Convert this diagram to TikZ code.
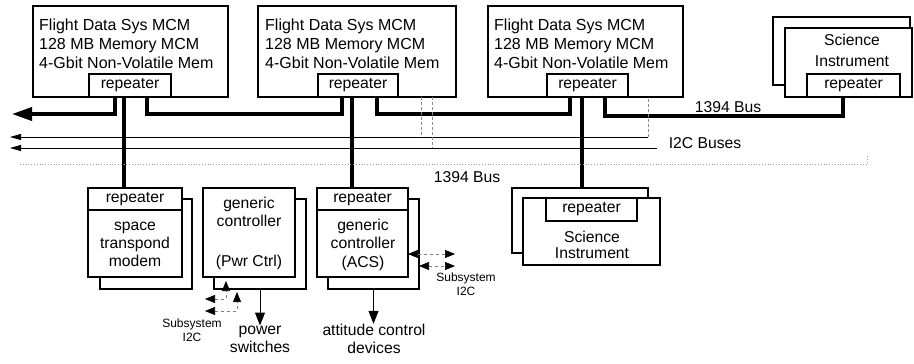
\documentclass[tikz,border=0pt]{standalone}
\usepackage{fontspec}
\setmainfont{Liberation Sans}
\usetikzlibrary{arrows.meta,calc}
\begin{document}
\begin{tikzpicture}[x=1pt,y=-1pt,
  box/.style={draw, line width=1.1pt, fill=white, inner sep=0pt, outer sep=0pt},
  lbl/.style={font=\fontsize{15.7}{18.5}\selectfont, align=center, inner sep=0pt},
  fdst/.style={font=\fontsize{16}{19}\selectfont, align=left, anchor=west, inner sep=0pt},
  lsm/.style={font=\fontsize{12}{14}\selectfont, align=center, inner sep=0pt},
  bus/.style={line width=3.6pt},
  i2c/.style={line width=0.9pt},
  faint/.style={line width=0.6pt, black!45, dash pattern=on 3pt off 2pt},
  tiparr/.style={-{Triangle[length=13pt,width=10pt]}, line width=1pt},
  subarr/.style={{Triangle[length=10pt,width=8pt,black]}-{Triangle[length=10pt,width=8pt,black]}, line width=0.6pt, black!50, dash pattern=on 3pt off 3pt},
]
\useasboundingbox[fill=white] (0,0) rectangle (914,364);

% ---------- top row: flight data boxes ----------
\node[box, minimum width=195, minimum height=91] (fds1) at (130.5,51.5) {};
\node[box, minimum width=198, minimum height=91] (fds2) at (357,51.5) {};
\node[box, minimum width=195, minimum height=91] (fds3) at (585.5,51.5) {};
\node[fdst] (ft1) at (39,43.5) {Flight Data Sys MCM\\128 MB Memory MCM\\4-Gbit Non-Volatile Mem};
\node[fdst] (ft2) at (265,43.5) {Flight Data Sys MCM\\128 MB Memory MCM\\4-Gbit Non-Volatile Mem};
\node[fdst] (ft3) at (494,43.5) {Flight Data Sys MCM\\128 MB Memory MCM\\4-Gbit Non-Volatile Mem};
\node[box, minimum width=82, minimum height=23] (rep1) at (130,85.5) {};
\node[box, minimum width=80, minimum height=23] (rep2) at (358,85.5) {};
\node[box, minimum width=81, minimum height=23] (rep3) at (587.5,85.5) {};
\node[lbl] (rt1) at (rep1) {repeater};
\node[lbl] (rt2) at (rep2) {repeater};
\node[lbl] (rt3) at (rep3) {repeater};

% ---------- top right science instrument ----------
\node[box, minimum width=137, minimum height=68] (sciAb) at (841.5,51) {};
\node[box, minimum width=127, minimum height=69] (sciAf) at (848.5,62.5) {};
\node[lbl, font=\fontsize{15.7}{21.5}\selectfont] (sciAt) at (852,50.5) {Science\\Instrument};
\node[box, minimum width=93, minimum height=23] (rep4) at (853.5,85.5) {};
\node[lbl] (rt4) at (rep4) {repeater};

% ---------- lower boxes ----------
% space transponder modem
\node[box, minimum width=92, minimum height=90] (stxb) at (146,244) {};
\node[box, minimum width=94, minimum height=89] (stxf) at (135,232.5) {};
\node[box, minimum width=94, minimum height=22] (repS) at (135,199) {};
\node[lbl] (rtS) at (repS) {repeater};
\node[lbl, font=\fontsize{15.7}{18}\selectfont] (stxt) at (135,244) {space\\transpond\\modem};
% generic controller (Pwr Ctrl)
\node[box, minimum width=92, minimum height=90] (pwrb) at (260,244) {};
\node[box, minimum width=92, minimum height=89] (pwrf) at (249,232.5) {};
\node[lbl, font=\fontsize{15.7}{18}\selectfont] (pwrt) at (249,212) {generic\\controller};
\node[lbl] (pwrt2) at (249,262) {(Pwr Ctrl)};
% generic controller (ACS)
\node[box, minimum width=91, minimum height=90] (acsb) at (373.5,244) {};
\node[box, minimum width=91, minimum height=89] (acsf) at (362.5,232.5) {};
\node[box, minimum width=91, minimum height=22] (repA) at (362.5,199) {};
\node[lbl] (rtA) at (repA) {repeater};
\node[lbl, font=\fontsize{15.7}{18.5}\selectfont] (acst) at (363,244.5) {generic\\controller\\(ACS)};
% lower science instrument
\node[box, minimum width=136, minimum height=65] (sciBb) at (580,220.5) {};
\node[box, minimum width=137, minimum height=67] (sciBf) at (591.5,231.5) {};
\node[box, minimum width=91, minimum height=23] (repB) at (591.5,209.5) {};
\node[lbl] (rtB) at (repB) {repeater};
\node[lbl, font=\fontsize{15.7}{16.7}\selectfont] (sciBt) at (592,245) {Science\\Instrument};

% ---------- 1394 bus (thick) ----------
\coordinate (busL) at (12,114);
\draw[bus, -{Triangle[length=20pt,width=13pt]}] ($(rep1.south)+(-15,0)$) |- (busL);
\draw[bus] ($(rep1.south)+(17,0)$) -- ++(0,17) -| ($(rep2.south)+(-16,0)$);
\draw[bus] ($(rep2.south)+(19,0)$) -- ++(0,17) -| ($(rep3.south)+(-17.5,0)$);
\draw[bus] ($(rep3.south)+(17.5,0)$) -- ++(0,19) -| ($(rep4.south)+(-10.5,0)$);
\coordinate (d1) at ($(rep1.south)+(-6,0)$);
\coordinate (d2) at ($(rep2.south)+(-6,0)$);
\coordinate (d3) at ($(rep3.south)+(-5.5,0)$);
\draw[bus] (d1) -- (d1 |- repS.north);
\draw[bus] (d2) -- (d2 |- repA.north);
\draw[bus] (d3) -- (d3 |- sciBb.north);
\node[lbl] (b1394a) at (728,107) {1394 Bus};
\node[lbl] (b1394b) at (467,177) {1394 Bus};

% ---------- I2C buses ----------
\coordinate (iA) at (10,137);
\coordinate (iAe) at (648,137);
\coordinate (iB) at (10,148);
\coordinate (iBe) at (657,148);
\draw[i2c, -{Triangle[length=11pt,width=6pt]}] (iAe) -- (iA);
\draw[i2c, -{Triangle[length=11pt,width=6pt]}] (iBe) -- (iB);
\draw[faint] ($(fds2.south)+(64,0)$) -- ++(0,40);
\draw[faint] ($(fds2.south)+(75,0)$) -- ++(0,51);
\draw[faint] (iAe) -- (iAe |- fds3.south);
\node[lbl] (i2clbl) at (705,143) {I2C Buses};
\coordinate (dotL) at (20,164);
\coordinate (dotR) at (867,164);
\draw[black!40, dotted, line width=0.8pt] (dotL) -- (dotR) -- ++(0,-9);

% ---------- controller I/O ----------
\node[lbl, font=\fontsize{15.7}{18}\selectfont] (pwsw) at (260,339) {power\\switches};
\draw[tiparr] (pwrb.south -| pwsw.north) -- (pwsw.north);
\node[lbl, font=\fontsize{15.7}{18.5}\selectfont] (attd) at (374,339) {attitude control\\devices};
\draw[tiparr] (acsb.south) -- (acsb.south |- attd.north);

\coordinate (sa1) at (205,299);
\coordinate (pu1) at (226,281);
\coordinate (sa2) at (205,311);
\coordinate (pu2) at (237,292);
\draw[subarr] (sa1) -| (pu1);
\draw[subarr] (sa2) -| (pu2);
\node[lsm] (subL) at (192,330) {Subsystem\\I2C};

\coordinate (sr1) at (455,254);
\coordinate (sr2) at (455,266);
\draw[subarr] (sr1 -| acsf.east) -- (sr1);
\draw[subarr] (sr2 -| acsb.east) -- (sr2);
\node[lsm] (subR) at (466,284) {Subsystem\\I2C};
\end{tikzpicture}
\end{document}
